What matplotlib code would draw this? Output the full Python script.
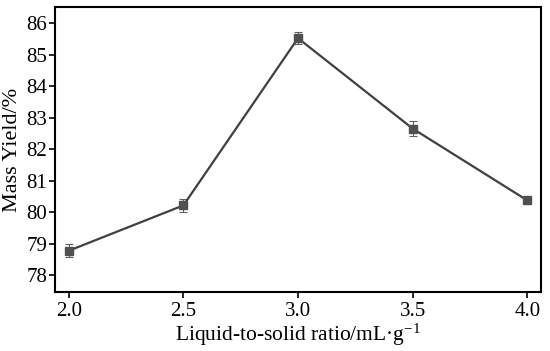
import matplotlib
matplotlib.use('Agg')
import matplotlib.pyplot as plt

# Data
ratio = [2.0, 2.5, 3.0, 3.5, 4.0]
mass_yield = [78.77, 80.21, 85.52, 82.65, 80.37]
yield_err = [0.2, 0.2, 0.2, 0.25, 0.05]
x_ticks = [2.0, 2.5, 3.0, 3.5, 4.0]
y_ticks = [78, 79, 80, 81, 82, 83, 84, 85, 86]

plt.rcParams['font.family'] = ['Liberation Serif', 'DejaVu Serif']
plt.rcParams['mathtext.fontset'] = 'custom'
plt.rcParams['mathtext.rm'] = 'Liberation Serif'
plt.rcParams['mathtext.it'] = 'Liberation Serif:italic'

fig = plt.figure(figsize=(5.5, 3.51), dpi=100)
ax = fig.add_axes([55 / 550, 1 - 292 / 351, 486 / 550, 285 / 351])

ax.errorbar(ratio, mass_yield, yerr=yield_err, color='#404040', linewidth=1.6,
            marker='s', markersize=6, markerfacecolor='#505050', markeredgecolor='#505050',
            ecolor='#606060', elinewidth=0.8, capsize=3, capthick=0.8)

ax.set_xlim(1.94, 4.06)
ax.set_ylim(77.46, 86.51)
ax.set_xticks(x_ticks)
ax.set_xticklabels([f'{v:.1f}' for v in x_ticks])
ax.set_yticks(y_ticks)

ax.tick_params(direction='out', length=4, width=1.2, labelsize=15, colors='black')
ax.tick_params(axis='x', pad=3)
ax.tick_params(axis='y', pad=1.5)
for s in ax.spines.values():
    s.set_linewidth(1.5)

ax.set_xlabel('Liquid-to-solid ratio/mL\u00b7g$^{\\mathrm{-1}}$', fontsize=15.5, labelpad=1)
ax.set_ylabel('Mass Yield/%', fontsize=16, labelpad=3)

fig.savefig('out.png', dpi=100)
